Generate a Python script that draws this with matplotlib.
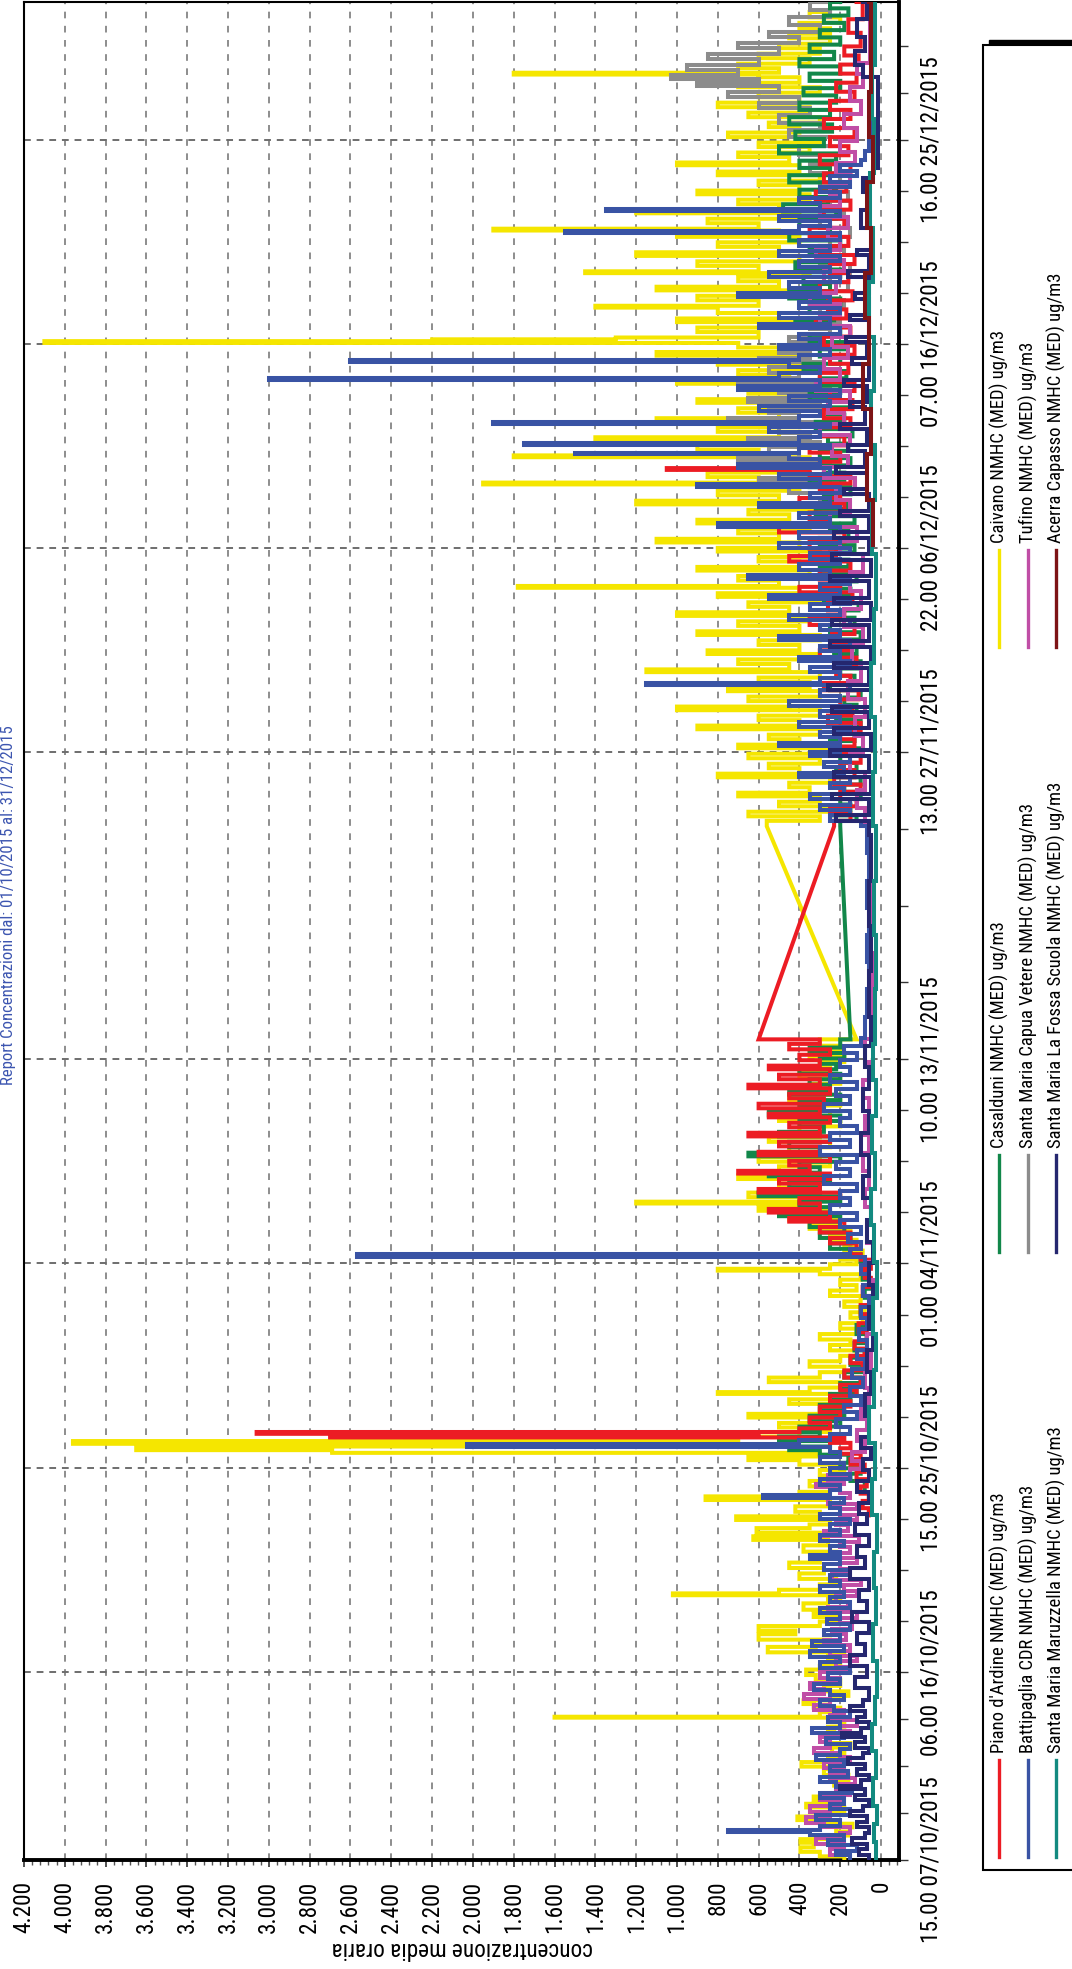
import matplotlib
matplotlib.use("Agg")
import matplotlib.pyplot as plt
import pandas as pd
from matplotlib.ticker import MultipleLocator, FixedLocator, FuncFormatter
from matplotlib.patches import Rectangle
from matplotlib.lines import Line2D
from matplotlib import font_manager

# ---------------------------------------------------------------- data
# readings are (hours since 07/10/2015 15:00, hourly mean in ug/m3)
start = pd.Timestamp("2015-10-07 15:00")
end = pd.Timestamp("2016-01-01 00:00")
tick_times = ["2015-10-07 15:00", "2015-10-16 06:00", "2015-10-25 15:00", "2015-11-04 01:00",
              "2015-11-13 10:00", "2015-11-27 13:00", "2015-12-06 22:00", "2015-12-16 07:00",
              "2015-12-25 16:00"]

caivano = [
    (0, 180), (4, 300), (9, 395), (14, 330), (19, 395), (23, 250), (27, 160), (31, 220), (36, 140),
    (40, 260), (44, 410), (48, 300), (52, 180), (58, 367), (62, 250), (66, 330), (70, 200), (76, 150),
    (82, 230), (88, 160), (94, 280), (100, 200), (103, 390), (108, 260), (113, 180), (118, 240),
    (124, 150), (129, 250), (135, 230), (141, 260), (147, 180), (152, 240), (157, 1600), (158, 300),
    (163, 200), (168, 330), (172, 380), (176, 250), (181, 160), (186, 280), (192, 200), (198, 320),
    (204, 367), (210, 300), (214, 200), (220, 260), (225, 180), (229, 555), (235, 320), (240, 250),
    (243, 600), (249, 420), (253, 600), (258, 300), (263, 220), (268, 330), (272, 250), (276, 380),
    (283, 260), (288, 200), (292, 1020), (294, 500), (298, 300), (304, 220), (310, 400), (316, 280),
    (322, 450), (328, 300), (334, 220), (340, 380), (347, 260), (353, 626), (357, 300), (361, 610),
    (366, 350), (370, 250), (375, 710), (379, 300), (384, 420), (390, 250), (397, 860), (401, 400),
    (406, 250), (412, 350), (418, 200), (424, 300), (430, 180), (436, 400), (441, 650), (445, 300),
    (449, 2690), (452, 3650), (456, 800), (459, 3960), (462, 2330), (463, 700), (467, 400), (472, 250),
    (477, 500), (482, 300), (488, 650), (492, 300), (497, 200), (503, 450), (508, 250), (514, 800),
    (516, 350), (521, 200), (527, 550), (532, 300), (538, 180), (544, 350), (550, 200), (556, 120),
    (562, 250), (568, 150), (574, 300), (580, 120), (586, 200), (592, 90), (598, 150), (604, 80),
    (610, 180), (616, 100), (622, 250), (628, 120), (634, 200), (640, 100), (646, 300), (650, 800),
    (652, 250), (657, 120), (662, 200), (667, 90), (672, 180), (678, 120), (684, 250), (690, 150),
    (696, 350), (700, 200), (706, 450), (711, 250), (716, 600), (720, 300), (724, 1200), (726, 400),
    (731, 650), (736, 300), (741, 500), (746, 250), (751, 700), (755, 350), (760, 500), (765, 250),
    (770, 600), (775, 300), (780, 450), (786, 250), (792, 550), (797, 300), (803, 400), (809, 200),
    (815, 500), (820, 250), (826, 400), (832, 200), (838, 450), (844, 250), (850, 350), (856, 200),
    (862, 400), (868, 250), (874, 300), (880, 180), (886, 350), (892, 200), (898, 300), (905, 120),
    (1140, 560), (1146, 300), (1151, 650), (1156, 250), (1162, 500), (1167, 300), (1173, 700),
    (1177, 350), (1183, 450), (1188, 250), (1194, 800), (1198, 400), (1204, 550), (1209, 300),
    (1215, 650), (1220, 250), (1226, 700), (1230, 400), (1236, 550), (1241, 300), (1247, 900),
    (1251, 400), (1257, 600), (1262, 300), (1268, 1000), (1272, 450), (1278, 650), (1283, 300),
    (1289, 750), (1293, 350), (1299, 600), (1304, 300), (1310, 1150), (1313, 450), (1319, 700),
    (1324, 300), (1330, 850), (1334, 400), (1340, 600), (1345, 300), (1351, 900), (1355, 400),
    (1361, 700), (1366, 350), (1372, 1000), (1376, 450), (1382, 650), (1387, 300), (1393, 800),
    (1397, 400), (1403, 1780), (1405, 500), (1411, 700), (1416, 350), (1422, 900), (1426, 400),
    (1432, 600), (1437, 300), (1443, 800), (1447, 400), (1453, 1100), (1457, 500), (1463, 700),
    (1468, 350), (1474, 900), (1478, 450), (1484, 650), (1489, 300), (1495, 1200), (1499, 500),
    (1505, 800), (1510, 400), (1517, 1950), (1519, 600), (1525, 850), (1530, 400), (1536, 700),
    (1541, 350), (1547, 1800), (1549, 600), (1555, 900), (1560, 400), (1566, 1400), (1569, 500),
    (1575, 800), (1580, 400), (1586, 1100), (1590, 500), (1596, 700), (1601, 350), (1607, 900),
    (1611, 400), (1617, 650), (1622, 300), (1628, 1000), (1632, 450), (1638, 700), (1643, 350),
    (1649, 800), (1653, 400), (1659, 1100), (1663, 500), (1668, 700), (1673, 4100), (1675, 2200),
    (1677, 1300), (1679, 600), (1685, 900), (1690, 400), (1696, 1000), (1700, 500), (1706, 800),
    (1712, 1400), (1714, 600), (1720, 900), (1725, 400), (1731, 1100), (1735, 500), (1741, 700),
    (1746, 350), (1750, 1450), (1752, 600), (1758, 900), (1763, 400), (1769, 1200), (1773, 500),
    (1779, 800), (1784, 400), (1790, 1000), (1794, 500), (1797, 1900), (1799, 600), (1805, 850),
    (1810, 400), (1816, 1200), (1820, 500), (1826, 700), (1831, 350), (1837, 900), (1841, 400),
    (1847, 600), (1852, 300), (1858, 800), (1862, 400), (1869, 1000), (1872, 450), (1878, 700),
    (1883, 350), (1889, 600), (1894, 300), (1900, 750), (1905, 400), (1911, 550), (1916, 300),
    (1922, 650), (1927, 350), (1933, 800), (1938, 400), (1944, 600), (1949, 300), (1955, 700),
    (1960, 400), (1966, 600), (1969, 1800), (1971, 500), (1976, 700), (1981, 350), (1987, 600),
    (1992, 300), (1998, 500), (2003, 250), (2009, 450), (2014, 250), (2020, 400), (2026, 200),
    (2032, 350), (2038, 250), (2049, 300)]

piano = [
    (380, 60), (388, 90), (396, 60), (404, 100), (412, 70), (420, 120), (428, 80), (436, 150),
    (442, 100), (448, 200), (454, 150), (460, 250), (464, 180), (466, 2700), (468, 600), (470, 3060),
    (472, 400), (476, 250), (482, 350), (488, 200), (494, 300), (500, 150), (506, 250), (512, 120),
    (518, 200), (524, 100), (532, 180), (540, 90), (548, 150), (556, 80), (564, 130), (572, 70),
    (582, 110), (592, 60), (602, 100), (612, 50), (622, 90), (632, 50), (642, 80), (652, 50),
    (662, 100), (668, 150), (674, 120), (680, 250), (686, 150), (692, 300), (698, 180), (704, 450),
    (708, 250), (714, 550), (718, 300), (724, 400), (730, 200), (736, 600), (740, 300), (746, 500),
    (751, 250), (757, 700), (760, 350), (766, 450), (771, 250), (777, 600), (781, 300), (787, 500),
    (792, 250), (798, 650), (802, 300), (808, 450), (813, 250), (819, 550), (823, 300), (829, 600),
    (834, 280), (840, 450), (845, 250), (851, 650), (855, 300), (861, 500), (866, 250), (872, 550),
    (876, 300), (882, 400), (888, 250), (894, 450), (900, 300), (905, 600),
    (1140, 230), (1146, 150), (1154, 250), (1162, 120), (1170, 200), (1178, 100), (1186, 230),
    (1194, 130), (1202, 200), (1210, 100), (1220, 250), (1228, 130), (1236, 200), (1244, 100),
    (1254, 260), (1262, 140), (1270, 200), (1280, 110), (1290, 280), (1298, 150), (1306, 220),
    (1316, 120), (1326, 300), (1334, 160), (1342, 240), (1352, 130), (1362, 350), (1370, 180),
    (1378, 260), (1388, 140), (1398, 400), (1404, 200), (1412, 300), (1422, 150), (1432, 450),
    (1438, 220), (1446, 350), (1454, 180), (1464, 500), (1470, 250), (1478, 350), (1486, 180),
    (1496, 400), (1502, 200), (1510, 300), (1518, 150), (1526, 350), (1533, 1050), (1535, 300),
    (1542, 200), (1552, 350), (1560, 180), (1570, 300), (1580, 150), (1590, 280), (1600, 140),
    (1610, 250), (1620, 130), (1630, 300), (1640, 160), (1650, 250), (1660, 130), (1670, 280),
    (1680, 150), (1690, 320), (1700, 170), (1710, 260), (1720, 140), (1730, 300), (1740, 160),
    (1750, 250), (1760, 130), (1770, 300), (1780, 160), (1790, 350), (1800, 180), (1810, 280),
    (1820, 150), (1830, 320), (1840, 170), (1850, 280), (1860, 150), (1870, 300), (1880, 160),
    (1890, 250), (1900, 130), (1910, 280), (1920, 150), (1930, 250), (1940, 130), (1950, 220),
    (1960, 120), (1970, 200), (1980, 110), (1990, 180), (2000, 100), (2015, 160), (2030, 90),
    (2049, 120)]

casalduni = [
    (410, 80), (418, 150), (426, 100), (432, 200), (438, 130), (441, 160), (447, 300), (452, 450),
    (456, 250), (462, 500), (467, 300), (472, 400), (478, 200), (484, 350), (490, 180), (496, 300),
    (502, 150), (508, 250), (514, 120), (520, 200), (526, 100), (532, 180), (538, 90), (546, 150),
    (554, 80), (562, 130), (570, 70), (580, 120), (590, 60), (600, 100), (610, 50), (620, 80),
    (630, 50), (640, 90), (650, 60), (660, 100), (668, 150), (674, 250), (680, 150), (686, 300),
    (692, 180), (698, 350), (704, 200), (710, 500), (714, 250), (720, 400), (726, 200), (732, 600),
    (736, 300), (742, 450), (748, 250), (754, 550), (758, 300), (764, 400), (770, 200), (776, 650),
    (780, 300), (786, 450), (792, 250), (798, 500), (803, 280), (809, 400), (815, 200), (821, 550),
    (826, 300), (832, 400), (838, 200), (844, 450), (849, 250), (855, 350), (861, 200), (867, 400),
    (872, 220), (878, 300), (884, 180), (890, 350), (896, 200), (905, 150),
    (1140, 200), (1146, 120), (1152, 250), (1158, 150), (1164, 200), (1170, 100), (1178, 180),
    (1186, 100), (1194, 220), (1202, 120), (1210, 200), (1218, 100), (1226, 250), (1234, 130),
    (1242, 200), (1250, 100), (1258, 220), (1266, 120), (1274, 180), (1282, 100), (1290, 250),
    (1298, 130), (1306, 200), (1314, 100), (1322, 230), (1330, 120), (1338, 200), (1346, 100),
    (1354, 250), (1362, 130), (1370, 200), (1378, 110), (1386, 280), (1394, 150), (1402, 220),
    (1410, 120), (1418, 300), (1426, 160), (1434, 250), (1442, 130), (1450, 300), (1458, 160),
    (1466, 250), (1474, 130), (1482, 320), (1490, 170), (1498, 280), (1506, 150), (1514, 350),
    (1522, 180), (1530, 280), (1538, 150), (1546, 300), (1554, 160), (1562, 260), (1570, 140),
    (1578, 320), (1586, 180), (1594, 260), (1602, 150), (1610, 350), (1618, 200), (1626, 300),
    (1634, 170), (1642, 380), (1650, 200), (1658, 300), (1666, 170), (1674, 350), (1682, 200),
    (1690, 420), (1698, 230), (1706, 350), (1714, 200), (1722, 450), (1730, 250), (1738, 380),
    (1746, 200), (1754, 420), (1762, 240), (1770, 350), (1778, 200), (1786, 450), (1794, 250),
    (1802, 400), (1810, 220), (1818, 480), (1826, 260), (1834, 400), (1842, 220), (1850, 450),
    (1858, 250), (1866, 400), (1874, 220), (1882, 500), (1890, 280), (1898, 420), (1906, 240),
    (1914, 450), (1922, 250), (1930, 400), (1938, 220), (1946, 380), (1954, 200), (1962, 350),
    (1970, 200), (1978, 400), (1986, 230), (1994, 350), (2002, 200), (2010, 300), (2018, 180),
    (2026, 280), (2034, 160), (2042, 250), (2049, 200)]

battipaglia = [
    (0, 150), (5, 220), (10, 120), (16, 260), (22, 180), (28, 350), (31, 750), (33, 300), (38, 200),
    (44, 320), (50, 150), (56, 250), (62, 180), (68, 300), (74, 140), (80, 220), (86, 300), (92, 160),
    (98, 250), (104, 180), (110, 320), (116, 200), (122, 150), (128, 270), (134, 180), (140, 340),
    (146, 200), (152, 260), (158, 150), (164, 230), (170, 300), (176, 180), (182, 250), (188, 330),
    (194, 200), (200, 260), (206, 150), (212, 300), (218, 200), (224, 350), (230, 180), (236, 340),
    (242, 200), (248, 280), (254, 150), (260, 265), (266, 200), (272, 300), (278, 150), (284, 250),
    (290, 180), (296, 300), (302, 200), (308, 250), (314, 150), (320, 280), (326, 200), (332, 350),
    (336, 200), (340, 250), (346, 180), (352, 300), (358, 200), (364, 250), (370, 150), (376, 300),
    (382, 200), (388, 250), (394, 180), (399, 580), (402, 250), (408, 200), (414, 300), (420, 150),
    (426, 250), (432, 180), (438, 300), (444, 200), (450, 250), (455, 2027), (459, 400), (463, 250),
    (470, 150), (478, 220), (486, 120), (494, 180), (502, 100), (512, 150), (522, 90), (532, 140),
    (542, 80), (552, 120), (562, 70), (574, 110), (586, 70), (598, 100), (610, 60), (622, 90),
    (634, 60), (646, 100), (656, 80), (665, 2570), (668, 150), (674, 100), (682, 160), (690, 100),
    (698, 200), (706, 120), (714, 250), (722, 150), (730, 200), (738, 120), (746, 280), (754, 150),
    (762, 220), (770, 120), (778, 300), (786, 150), (794, 250), (802, 120), (810, 200), (818, 150),
    (826, 280), (834, 150), (842, 220), (850, 120), (858, 250), (866, 150), (874, 200), (882, 120),
    (890, 180), (898, 100), (906, 80), (930, 70), (960, 60), (990, 70), (1020, 60), (1050, 70),
    (1080, 60), (1110, 70), (1140, 100), (1146, 250), (1152, 150), (1158, 300), (1164, 150),
    (1170, 350), (1176, 180), (1182, 250), (1188, 150), (1194, 400), (1199, 180), (1205, 280),
    (1211, 150), (1217, 350), (1222, 200), (1228, 500), (1232, 200), (1238, 300), (1244, 150),
    (1250, 400), (1255, 200), (1261, 300), (1267, 150), (1273, 450), (1278, 200), (1284, 300),
    (1290, 150), (1296, 1150), (1298, 300), (1304, 200), (1310, 350), (1316, 150), (1322, 400),
    (1327, 200), (1333, 300), (1339, 150), (1345, 500), (1350, 200), (1356, 300), (1362, 150),
    (1368, 450), (1373, 200), (1379, 350), (1385, 150), (1391, 550), (1395, 200), (1401, 300),
    (1407, 150), (1413, 650), (1417, 250), (1423, 400), (1429, 200), (1435, 350), (1441, 150),
    (1447, 500), (1452, 200), (1458, 400), (1464, 200), (1470, 800), (1474, 250), (1480, 400),
    (1486, 200), (1492, 600), (1496, 250), (1502, 350), (1508, 200), (1514, 900), (1517, 300),
    (1523, 500), (1529, 250), (1535, 700), (1539, 300), (1545, 450), (1550, 1500), (1552, 400),
    (1557, 250), (1561, 1750), (1563, 400), (1569, 300), (1575, 550), (1580, 250), (1584, 1900),
    (1586, 400), (1592, 300), (1598, 600), (1603, 250), (1609, 450), (1615, 200), (1621, 700),
    (1625, 300), (1632, 3000), (1634, 500), (1640, 300), (1646, 450), (1652, 2600), (1654, 400),
    (1660, 250), (1666, 500), (1671, 300), (1677, 400), (1683, 200), (1689, 600), (1694, 250),
    (1700, 500), (1706, 200), (1712, 400), (1718, 250), (1724, 700), (1728, 300), (1734, 450),
    (1740, 200), (1746, 550), (1751, 250), (1757, 400), (1763, 200), (1769, 500), (1774, 250),
    (1780, 400), (1786, 200), (1794, 1550), (1796, 400), (1802, 250), (1808, 500), (1813, 200),
    (1819, 1350), (1821, 300), (1827, 400), (1833, 200), (1839, 300), (1845, 150), (1851, 250),
    (1857, 120), (1863, 200), (1869, 100), (1875, 80), (1885, 60), (1896, 45), (2049, 45)]

capua_vetere = [
    (1490, 150), (1496, 300), (1502, 200), (1508, 450), (1514, 250), (1520, 600), (1524, 350),
    (1530, 500), (1536, 250), (1542, 700), (1546, 400), (1552, 550), (1558, 300), (1564, 650),
    (1568, 350), (1574, 500), (1580, 250), (1586, 750), (1590, 400), (1596, 550), (1602, 300),
    (1608, 650), (1612, 350), (1618, 500), (1624, 250), (1630, 700), (1634, 400), (1640, 550),
    (1646, 300), (1652, 600), (1656, 350), (1662, 500), (1668, 250), (1674, 450), (1680, 250),
    (1688, 350), (1696, 200), (1704, 300), (1712, 180), (1720, 280), (1730, 160), (1740, 250),
    (1750, 150), (1760, 300), (1770, 180), (1780, 250), (1790, 150), (1800, 300), (1810, 180),
    (1820, 250), (1830, 160), (1840, 300), (1850, 200), (1860, 350), (1870, 220), (1880, 400),
    (1890, 250), (1900, 450), (1908, 300), (1916, 500), (1924, 350), (1932, 600), (1938, 400),
    (1944, 750), (1950, 500), (1956, 900), (1960, 600), (1964, 1030), (1968, 700), (1974, 950),
    (1980, 600), (1986, 850), (1992, 500), (1998, 700), (2004, 400), (2010, 550), (2016, 300),
    (2024, 450), (2032, 250), (2040, 350), (2049, 250)]

la_fossa = [
    (0, 60), (6, 110), (12, 70), (18, 140), (24, 80), (30, 60), (36, 120), (42, 70), (48, 150),
    (54, 90), (60, 60), (66, 130), (72, 80), (78, 200), (82, 100), (88, 60), (94, 120), (100, 80),
    (106, 160), (112, 90), (118, 60), (124, 130), (130, 80), (136, 190), (140, 100), (146, 60),
    (152, 120), (158, 80), (164, 150), (170, 90), (176, 60), (190, 130), (202, 70), (214, 150),
    (226, 80), (238, 120), (250, 60), (262, 140), (274, 70), (286, 110), (298, 60), (310, 150),
    (322, 80), (334, 120), (346, 60), (358, 130), (370, 70), (382, 110), (394, 60), (406, 120),
    (418, 60), (430, 90), (442, 50), (454, 100), (466, 60), (490, 80), (514, 50), (538, 70),
    (562, 40), (586, 60), (610, 40), (634, 60), (658, 40), (682, 70), (706, 50), (730, 90),
    (754, 60), (778, 100), (802, 60), (826, 90), (850, 60), (874, 80), (898, 50), (930, 60),
    (980, 50), (1030, 60), (1080, 50), (1130, 60), (1146, 220), (1152, 60), (1170, 240), (1176, 50),
    (1194, 230), (1200, 60), (1218, 250), (1224, 50), (1242, 230), (1248, 60), (1266, 240),
    (1272, 50), (1290, 260), (1296, 60), (1314, 230), (1320, 50), (1338, 250), (1344, 60),
    (1362, 240), (1368, 50), (1386, 230), (1392, 60), (1410, 250), (1416, 50), (1434, 240),
    (1440, 60), (1458, 230), (1464, 60), (1482, 200), (1488, 60), (1506, 180), (1512, 70),
    (1530, 220), (1536, 80), (1554, 160), (1560, 70), (1578, 200), (1584, 80), (1602, 150),
    (1608, 70), (1626, 180), (1632, 60), (1650, 140), (1656, 70), (1674, 170), (1680, 60),
    (1698, 150), (1704, 60), (1722, 130), (1728, 60), (1746, 160), (1752, 60), (1770, 120),
    (1776, 50), (1800, 100), (1820, 60), (1840, 90), (1855, 40), (1866, 15), (1960, 15),
    (1966, 90), (1980, 130), (1995, 80), (2010, 120), (2030, 70), (2049, 90)]

tufino = [
    (0, 150), (6, 250), (12, 180), (18, 320), (24, 200), (30, 150), (36, 280), (41, 370), (47, 250),
    (53, 350), (59, 200), (66, 300), (72, 150), (78, 220), (84, 130), (90, 250), (96, 180),
    (102, 280), (108, 150), (114, 200), (118, 330), (124, 250), (130, 300), (136, 150), (142, 200),
    (148, 120), (154, 250), (160, 180), (165, 330), (171, 250), (177, 380), (183, 280), (189, 350),
    (195, 200), (201, 300), (207, 150), (213, 220), (219, 120), (225, 250), (231, 150), (237, 280),
    (243, 170), (249, 240), (255, 140), (261, 200), (267, 120), (273, 260), (279, 160), (285, 220),
    (291, 120), (297, 180), (303, 100), (309, 240), (315, 150), (321, 200), (327, 120), (333, 250),
    (339, 150), (345, 200), (351, 110), (357, 280), (363, 160), (369, 220), (375, 120), (381, 200),
    (387, 120), (393, 260), (399, 150), (405, 200), (411, 320), (415, 180), (419, 260), (425, 150),
    (431, 100), (440, 140), (450, 80), (462, 120), (474, 70), (486, 100), (500, 60), (520, 80),
    (540, 50), (560, 70), (580, 40), (600, 60), (620, 40), (640, 60), (660, 40), (680, 70),
    (700, 50), (720, 80), (740, 60), (760, 90), (780, 60), (800, 80), (820, 60), (840, 90),
    (860, 60), (880, 80), (905, 50), (930, 40), (960, 40), (1000, 50), (1040, 40), (1080, 50),
    (1120, 60), (1140, 80), (1160, 120), (1180, 80), (1200, 150), (1220, 90), (1240, 130),
    (1260, 80), (1280, 160), (1300, 100), (1320, 140), (1340, 90), (1360, 180), (1380, 100),
    (1400, 150), (1420, 90), (1440, 200), (1455, 120), (1470, 250), (1485, 150), (1500, 220),
    (1512, 130), (1524, 280), (1536, 160), (1548, 240), (1560, 150), (1572, 300), (1584, 180),
    (1596, 260), (1608, 150), (1620, 320), (1632, 200), (1644, 280), (1656, 160), (1668, 240),
    (1680, 150), (1692, 300), (1704, 200), (1716, 350), (1728, 220), (1740, 280), (1752, 180),
    (1764, 320), (1776, 200), (1788, 260), (1800, 160), (1812, 300), (1824, 200), (1836, 250),
    (1848, 150), (1860, 220), (1872, 130), (1884, 200), (1896, 120), (1910, 180), (1925, 100),
    (1940, 150), (1955, 90), (1970, 120), (1982, 55), (2049, 55)]

maruzzella = [
    (0, 25), (20, 35), (40, 20), (60, 40), (90, 25), (120, 45), (150, 30), (180, 20), (220, 40),
    (260, 25), (300, 35), (340, 20), (380, 45), (420, 30), (460, 60), (500, 35), (540, 25),
    (580, 40), (620, 20), (660, 35), (700, 50), (740, 30), (780, 45), (820, 25), (860, 40),
    (900, 30), (960, 25), (1020, 35), (1080, 25), (1140, 40), (1200, 30), (1260, 50), (1320, 35),
    (1380, 25), (1440, 45), (1500, 30), (1560, 50), (1620, 35), (1680, 60), (1740, 40), (1800, 55),
    (1860, 35), (1920, 45), (1980, 30), (2049, 40)]

acerra = [
    (1450, 40), (1500, 70), (1550, 50), (1600, 90), (1650, 60), (1700, 80), (1750, 50), (1800, 70),
    (1850, 40), (1900, 60), (1950, 50), (2049, 60)]

# drawing order: first listed lies underneath
series = [
    (caivano, "#f5e600"),
    (capua_vetere, "#8c8c8c"),
    (casalduni, "#12874a"),
    (piano, "#ec1c24"),
    (tufino, "#c04ea6"),
    (battipaglia, "#3953a4"),
    (la_fossa, "#25276f"),
    (maruzzella, "#138a80"),
    (acerra, "#7d1416"),
]

legend_columns = [
    [("Piano d'Ardine NMHC (MED) ug/m3", "#ec1c24"),
     ("Battipaglia CDR NMHC (MED) ug/m3", "#3953a4"),
     ("Santa Maria Maruzzella NMHC (MED) ug/m3", "#138a80")],
    [("Casalduni NMHC (MED) ug/m3", "#12874a"),
     ("Santa Maria Capua Vetere NMHC (MED) ug/m3", "#8c8c8c"),
     ("Santa Maria La Fossa Scuola NMHC (MED) ug/m3", "#25276f")],
    [("Caivano NMHC (MED) ug/m3", "#f5e600"),
     ("Tufino NMHC (MED) ug/m3", "#c04ea6"),
     ("Acerra Capasso NMHC (MED) ug/m3", "#7d1416")],
]

title = "Report Concentrazioni dal: 01/10/2015 al: 31/12/2015"
value_label = "concentrazione media oraria"

# ---------------------------------------------------------------- style
W, H, DPI = 1072, 1969, 100

fonts = font_manager.fontManager.ttflist
names = {f.name for f in fonts}
STRETCH = "normal"
FONT = "Liberation Sans"
for cand in ("Liberation Sans Narrow", "Roboto Condensed", "Open Sans Condensed", "DejaVu Sans Condensed"):
    if cand in names:
        FONT = cand
        break
else:
    if any(f.name == "DejaVu Sans" and f.stretch == "condensed" for f in fonts):
        FONT, STRETCH = "DejaVu Sans", "condensed"
plt.rcParams["font.family"] = [FONT, "DejaVu Sans"]
plt.rcParams["font.stretch"] = STRETCH

MAX_HOLD = 100   # longer silences are bridged by a straight segment


def hours(ts):
    return (pd.Timestamp(ts) - start) / pd.Timedelta(hours=1)


def hourly_path(readings):
    """Hold each reading until the next one; bridge long gaps linearly."""
    t = [p[0] for p in readings]
    v = [p[1] for p in readings]
    xs, ys = [v[0]], [t[0]]
    for k in range(1, len(t)):
        if t[k] - t[k - 1] <= MAX_HOLD:
            xs.append(v[k - 1]); ys.append(t[k])
        xs.append(v[k]); ys.append(t[k])
    return xs, ys


def fx(px):
    return px / W


def fy(py):
    return 1 - py / H


fig = plt.figure(figsize=(W / DPI, H / DPI), dpi=DPI)

# font size that gives the tick labels their printed length
probe = fig.text(0, 0, "15.00 07/10/2015", fontsize=10)
fig.canvas.draw()
probe_w = probe.get_window_extent().width
probe.remove()
FS = 10 * 165 / probe_w
LEG_FS = FS * 0.8
TITLE_FS = FS * 0.72

ax = fig.add_axes([fx(24), fy(1860), fx(899) - fx(24), fy(2) - fy(1860)])
ax.set_xlim(4200, -88)
ax.set_ylim(0, hours(end))

for readings, col in series:
    xs, ys = hourly_path(readings)
    ax.plot(xs, ys, color=col, lw=2.9, solid_joinstyle="miter", zorder=3)

# grid
major_h = [hours(s) for s in tick_times]
for gx in range(200, 4200, 200):
    ax.axvline(gx, color="#7a7a7a", lw=1.2, ls=(0, (4, 4.5)), zorder=1)
ax.axvline(0, color="#7a7a7a", lw=1.2, ls=(0, (4, 4.5)), zorder=2)
for gy in major_h[1:]:
    ax.axhline(gy, color="#6e6e6e", lw=1.4, ls=(0, (3.5, 3)), zorder=1)

# value axis (bottom)
ax.xaxis.set_major_locator(MultipleLocator(200))
ax.xaxis.set_minor_locator(MultipleLocator(40))
ax.xaxis.set_major_formatter(FuncFormatter(lambda x, p: f"{int(round(x)):,}".replace(",", ".")))
ax.tick_params(axis="x", which="major", direction="out", length=5, width=1.2, pad=10,
               labelsize=FS, rotation=90, color="#333333")
ax.tick_params(axis="x", which="minor", direction="out", length=3.5, width=1.0, color="#555555")

# time axis (right): four subdivisions between labelled instants
minor_h = []
for a, b in zip(major_h[:-1], major_h[1:]):
    minor_h += [a + (b - a) * k / 4 for k in range(1, 4)]
minor_h += [major_h[-1] + 52, major_h[-1] + 104]
ax.yaxis.tick_right()
ax.yaxis.set_major_locator(FixedLocator(major_h))
ax.yaxis.set_minor_locator(FixedLocator(minor_h))
ax.set_yticklabels([pd.Timestamp(s).strftime("%H.%M %d/%m/%Y") for s in tick_times])
ax.tick_params(axis="y", which="both", direction="out", length=6.5, width=1.0, pad=8,
               labelsize=FS, color="#333333")
for lab in ax.get_yticklabels():
    lab.set_rotation(90)
    lab.set_va("center")

for side, lw in (("left", 1.5), ("top", 1.5), ("bottom", 2.8), ("right", 2.8)):
    ax.spines[side].set_linewidth(lw)
    ax.spines[side].set_color("black")

fig.text(fx(462), fy(1948), value_label, rotation=180, ha="center", va="center", fontsize=FS)
fig.text(fx(9), fy(905), title, rotation=90, ha="center", va="center", fontsize=TITLE_FS,
         color="#3c55b0")

# legend box with drop shadow
lx0, lx1, ly0, ly1 = 983, 1090, 45, 1870
fig.patches.append(Rectangle((fx(lx0 + 6), fy(ly1 - 5)), fx(lx1) - fx(lx0), fy(ly0) - fy(ly1),
                             transform=fig.transFigure, facecolor="black", edgecolor="black", zorder=1))
fig.patches.append(Rectangle((fx(lx0), fy(ly1)), fx(lx1) - fx(lx0), fy(ly0) - fy(ly1),
                             transform=fig.transFigure, facecolor="white", edgecolor="black", lw=1.5,
                             zorder=2))
row_x = [999, 1028, 1056]
for c, column in enumerate(legend_columns):
    base = 1857 - 605 * c
    for r, (label, col) in enumerate(column):
        fig.add_artist(Line2D([fx(row_x[r])] * 2, [fy(base), fy(base - 97)], color=col, lw=2.4,
                              transform=fig.transFigure, zorder=3))
        fig.text(fx(row_x[r]), fy(base - 104), label, rotation=90, ha="center", va="bottom",
                 fontsize=LEG_FS, zorder=3)

fig.savefig("out.png", dpi=DPI, facecolor="white")
